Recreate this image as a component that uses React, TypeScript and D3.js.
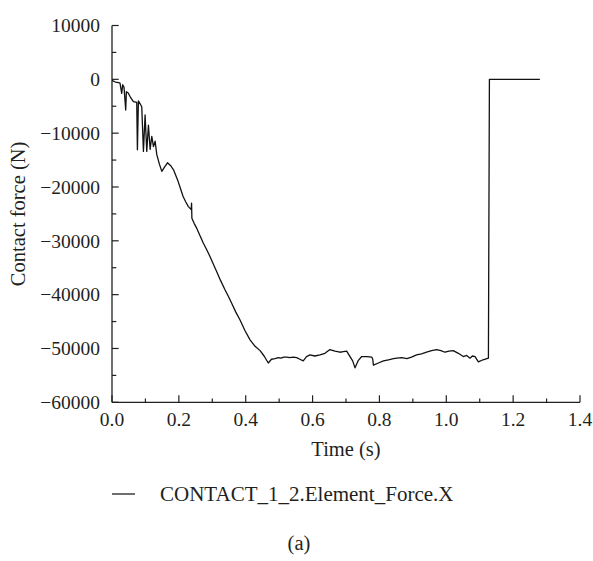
import React from "react";
import * as d3 from "d3";

const times = [
  0, 0.01, 0.02, 0.024, 0.029, 0.032, 0.036, 0.041, 0.043, 0.048, 0.054, 0.064,
  0.074, 0.076, 0.079, 0.082, 0.089, 0.094, 0.099, 0.104, 0.109, 0.114, 0.119,
  0.124, 0.129, 0.134, 0.142, 0.149, 0.157, 0.166, 0.175, 0.184, 0.198, 0.206,
  0.213, 0.22, 0.228, 0.237, 0.238, 0.239, 0.246, 0.253, 0.263, 0.273, 0.283,
  0.293, 0.303, 0.313, 0.325, 0.338, 0.348, 0.358, 0.37, 0.383, 0.398, 0.413,
  0.428, 0.443, 0.455, 0.4675, 0.477, 0.4876, 0.497, 0.505, 0.514, 0.5226,
  0.532, 0.542, 0.5525, 0.562, 0.572, 0.582, 0.592, 0.607, 0.622, 0.637, 0.652,
  0.667, 0.682, 0.692, 0.702, 0.707, 0.712, 0.72, 0.727, 0.737, 0.747, 0.762,
  0.777, 0.78, 0.782, 0.797, 0.812, 0.827, 0.842, 0.852, 0.867, 0.882, 0.896,
  0.911, 0.926, 0.941, 0.956, 0.971, 0.984, 0.996, 1.008, 1.021, 1.036, 1.051,
  1.061, 1.071, 1.078, 1.086, 1.096, 1.11, 1.126, 1.129, 1.28,
];
const forces = [
  -200, -500, -600, -700, -2600, -1000, -1500, -5700, -2300, -2500, -3200, -4150,
  -4300, -13100, -4000, -4300, -5100, -13400, -6600, -13400, -8500, -13000,
  -10600, -12500, -11500, -14000, -15800, -17100, -16300, -15500, -16000,
  -16800, -19000, -20500, -21800, -22700, -23600, -24200, -23000, -25800,
  -26800, -27600, -29000, -30400, -31600, -32900, -34300, -35700, -37400,
  -39100, -40300, -41600, -43200, -44700, -46700, -48400, -49600, -50400,
  -51400, -52700, -52000, -51900, -51700, -51800, -51600, -51600, -51700,
  -51600, -51700, -52000, -52300, -51500, -51200, -51400, -51200, -50900,
  -50200, -50500, -50700, -50600, -50500, -51000, -51500, -52300, -53600,
  -52200, -51500, -51500, -51600, -52000, -53100, -52700, -52300, -52100,
  -51900, -51800, -51700, -51900, -51600, -51200, -51000, -50700, -50400,
  -50200, -50400, -50700, -50500, -50400, -50900, -51500, -51300, -51800,
  -51400, -51500, -52500, -52100, -51800, 0, 0,
];

const xTicks = [0, 0.2, 0.4, 0.6, 0.8, 1.0, 1.2, 1.4];
const xMinor = [0.1, 0.3, 0.5, 0.7, 0.9, 1.1, 1.3];
const yTicks = [10000, 0, -10000, -20000, -30000, -40000, -50000, -60000];
const yMinor = [5000, -5000, -15000, -25000, -35000, -45000, -55000];

const seriesName = "CONTACT_1_2.Element_Force.X";
const xTitle = "Time (s)";
const yTitle = "Contact force (N)";
const caption = "(a)";

const W = 593;
const H = 561;
const left = 112;
const right = 580;
const top = 25.5;
const bottom = 402.3;
const ink = "#231f20";
const font = "'Liberation Serif', 'Times New Roman', serif";

export default function App() {
  const x = d3.scaleLinear().domain([0, 1.4]).range([left, right]);
  const y = d3.scaleLinear().domain([-60000, 10000]).range([bottom, top]);
  const pts = times.map((t, i) => [t, forces[i]] as [number, number]);
  const line = d3
    .line<[number, number]>()
    .x((d) => x(d[0]))
    .y((d) => y(d[1]));
  const fmtY = (v: number) => (v < 0 ? "\u2212" + String(-v) : String(v));

  return (
    <svg
      width={W}
      height={H}
      style={{ position: "absolute", left: 0, top: 0, background: "#fff" }}
      fontFamily={font}
    >
      <rect width={W} height={H} fill="#fff" />
      <line x1={left} x2={left} y1={top} y2={bottom} stroke={ink} strokeWidth={1.3} />
      <line x1={left} x2={right} y1={bottom} y2={bottom} stroke={ink} strokeWidth={1.3} />
      {yTicks.map((v) => (
        <g key={"y" + v}>
          <line x1={left} x2={left + 6.7} y1={y(v)} y2={y(v)} stroke={ink} strokeWidth={1.2} />
          <text x={100} y={y(v)} dy="0.35em" textAnchor="end" fontSize={19.5} fill={ink}>
            {fmtY(v)}
          </text>
        </g>
      ))}
      {yMinor.map((v) => (
        <line key={"ym" + v} x1={left} x2={left + 4.3} y1={y(v)} y2={y(v)} stroke={ink} strokeWidth={1.2} />
      ))}
      {xTicks.map((v) => (
        <g key={"x" + v}>
          <line x1={x(v)} x2={x(v)} y1={bottom} y2={bottom - 7} stroke={ink} strokeWidth={1.2} />
          <text x={x(v)} y={426} textAnchor="middle" fontSize={19.5} fill={ink}>
            {v.toFixed(1)}
          </text>
        </g>
      ))}
      {xMinor.map((v) => (
        <line key={"xm" + v} x1={x(v)} x2={x(v)} y1={bottom} y2={bottom - 3.8} stroke={ink} strokeWidth={1.2} />
      ))}
      <text x={(left + right) / 2} y={456} textAnchor="middle" fontSize={20.5} fill={ink}>
        {xTitle}
      </text>
      <text
        transform={`translate(25, ${(top + bottom) / 2}) rotate(-90)`}
        textAnchor="middle"
        fontSize={20.5}
        fill={ink}
      >
        {yTitle}
      </text>
      <path d={line(pts) || ""} fill="none" stroke="#111" strokeWidth={1.3} strokeLinejoin="round" />
      <line x1={112} x2={135} y1={494} y2={494} stroke={ink} strokeWidth={1.3} />
      <text x={160} y={501} fontSize={21} fill={ink}>
        {seriesName}
      </text>
      <text x={299} y={550} textAnchor="middle" fontSize={20.5} fill={ink}>
        {caption}
      </text>
    </svg>
  );
}
